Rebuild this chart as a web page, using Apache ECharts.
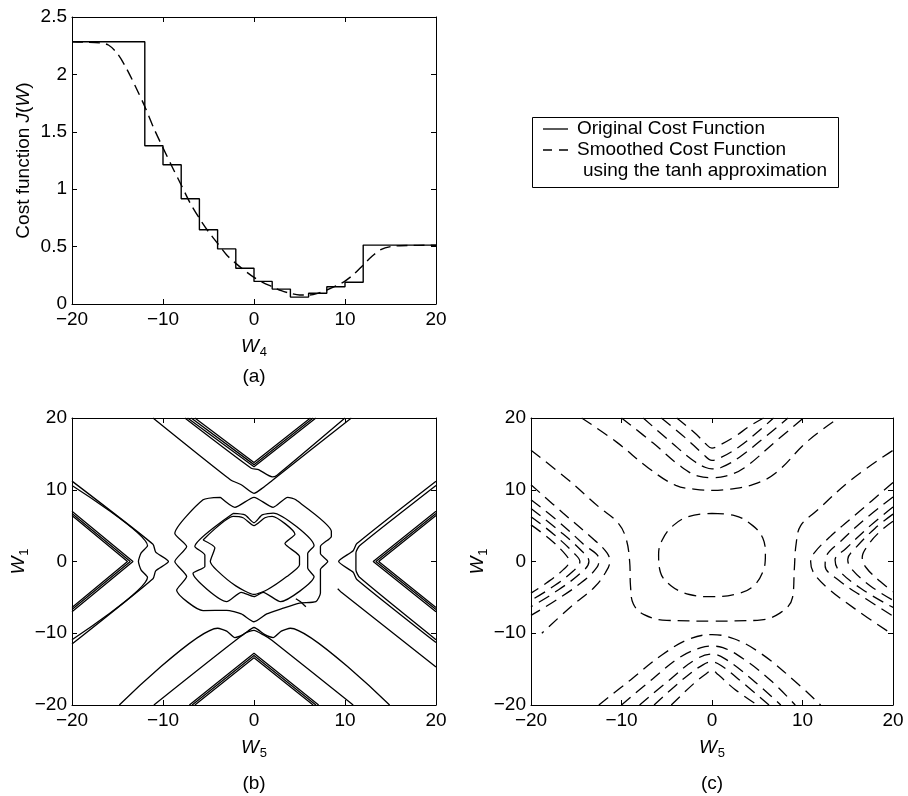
<!DOCTYPE html>
<html>
<head>
<meta charset="utf-8">
<script src="https://cdn.jsdelivr.net/npm/echarts@6/dist/echarts.min.js"></script>
<style>html,body{margin:0;padding:0;background:#fff}#chart{width:908px;height:796px}</style>
</head>
<body>
<div id="chart"></div>
<script>
// panel (a): cost function against W4
const stepW4 = [-20, -12, -10, -8, -6, -4, -2, 0, 2, 4, 6, 8, 10, 12, 20];
const stepCost = [2.285, 1.379, 1.213, 0.917, 0.647, 0.48, 0.312, 0.197, 0.13, 0.06, 0.093, 0.15, 0.19, 0.513, 0.513];
const smoothW4 = [-20, -17, -16, -15, -14, -13, -12, -11, -10, -9, -8, -7, -6, -5, -4, -3, -2, -1, 0, 1, 2, 3, 4, 5, 6, 7, 8, 9, 10, 11, 12, 13, 14, 15, 16, 18, 20];
const smoothCost = [2.285, 2.275, 2.256, 2.18, 2.05, 1.89, 1.72, 1.53, 1.36, 1.196, 1.037, 0.877, 0.746, 0.63, 0.528, 0.427, 0.354, 0.29, 0.232, 0.186, 0.151, 0.116, 0.093, 0.078, 0.078, 0.093, 0.122, 0.157, 0.2, 0.261, 0.34, 0.418, 0.476, 0.5, 0.508, 0.511, 0.512];

// panel (b): contours of the original cost, points are [W5, W1]
const bStraight = [
  [[-6.5, 20], [0, 13.8], [6.2, 20]],
  [[-6.9, 20], [0, 13.5], [6.5, 20]],
  [[-7.3, 20], [0, 13.2], [6.8, 20]],
  [[-7.1, -20], [0, -12.8], [7.1, -20]],
  [[-6.8, -20], [0, -13.1], [6.8, -20]],
  [[-6.5, -20], [0, -13.4], [6.5, -20]],
  [[-20, 7.0], [-13.3, 0], [-20, -7.0]],
  [[-20, 6.7], [-13.6, 0], [-20, -6.7]],
  [[-20, 6.4], [-13.9, 0], [-20, -6.4]],
  [[20, 7.0], [13.1, 0], [20, -7.0]],
  [[20, 6.7], [13.4, 0], [20, -6.7]],
  [[20, 6.4], [13.7, 0], [20, -6.4]],
  [[9.2, -3.8], [9.6, -4.3], [20, -14.7]]
];
const bCurved = [
  [[-7.6, 20], [-0.3, 13.0], [0.5, 12.8], [2.0, 11.8], [2.5, 12.0], [10.0, 20]],
  [[-11.1, 20], [-2.6, 11.4], [-1.4, 10.7], [0, 9.5], [1.0, 10.3], [2.0, 11.3], [10.7, 20]],
  [[-11.0, -20], [-1.0, -10.0], [0, -9.6], [1.0, -10.2], [2.0, -11.0], [10.9, -20]],
  [[-14.8, -20], [-4.0, -9.3], [-3.0, -9.7], [-2.1, -10.6], [-1.2, -10.2], [0, -9.2], [1.2, -10.2], [2.1, -10.6], [3.0, -9.7], [4.0, -9.3], [14.9, -20]],
  [[-20, 10.6], [-11.7, 2.2], [-12.4, 1.2], [-12.7, 0], [-12.4, -1.2], [-11.7, -2.2], [-20, -10.9]],
  [[-20, 11.2], [-11.1, 2.4], [-10.8, 1.3], [-9.4, 0], [-10.8, -1.3], [-11.1, -2.4], [-20, -11.5]],
  [[20, 10.6], [11.6, 2.2], [11.2, 1.2], [11.2, 0], [11.2, -1.2], [11.6, -2.2], [20, -10.9]],
  [[20, 11.2], [11.3, 2.5], [10.9, 1.5], [9.3, 0], [10.9, -1.5], [11.3, -2.5], [20, -11.3]],
  [[4.6, -5.2], [5.2, -5.7], [5.7, -6.3]]
];
const bLoops = [
  [[-3.7, 8.95], [-2.1, 7.55], [0, 8.95], [2.1, 7.55], [3.7, 8.95], [4.6, 8.6], [8.5, 4.2], [8.5, 3.5], [7.3, 2.1], [7.3, 1.1], [8.1, 0], [7.3, -1.1], [7.3, -2.1], [7.3, -4.4], [6.8, -5.6], [5.0, -5.8], [3.0, -6.6], [1.4, -7.3], [0, -8.4], [-1.4, -7.3], [-3.0, -6.8], [-5.6, -6.85], [-8.5, -4.0], [-7.4, -2.1], [-8.7, 0], [-7.4, 2.1], [-8.7, 3.9], [-5.6, 8.6], [-3.7, 8.95]],
  [[-2.3, 6.7], [-1.0, 6.5], [0, 5.4], [0.9, 6.5], [2.1, 6.75], [6.6, 2.2], [5.9, 1.1], [5.9, -0.9], [6.6, -2.1], [2.9, -5.6], [1.0, -4.3], [0, -4.9], [-1.4, -4.3], [-3.0, -5.6], [-6.7, -1.65], [-5.4, -0.7], [-5.4, 0.9], [-6.5, 2.1], [-2.3, 6.7]],
  [[-5.6, 3.0], [-2.3, 6.3], [-1.2, 6.1], [0, 5.0], [1.2, 6.1], [2.0, 6.3], [4.5, 3.8], [3.4, 2.5], [5.0, 0.7], [5.0, -0.5], [3.6, -2.1], [1.5, -3.9], [0, -4.6], [-2.0, -3.4], [-4.1, -1.2], [-4.8, 0], [-4.3, 1.9], [-5.6, 3.0]]
];

// panel (c): contours of the smoothed cost, points are [W5, W1]
const cTop = [
  [[-3.9, 20], [-1.8, 17.8], [-0.7, 16.4], [0, 15.8], [0.8, 16.2], [2.5, 17.4], [4.2, 18.9], [5.7, 20]],
  [[-5.6, 20], [-3.0, 17.3], [-1.0, 15.0], [0, 14.1], [1.0, 14.5], [3.0, 16.0], [5.0, 18.0], [6.8, 20]],
  [[-7.6, 20], [-4.5, 16.6], [-2.0, 14.0], [-0.7, 13.1], [0, 12.9], [1.0, 13.1], [3.0, 14.5], [6.0, 17.5], [8.4, 20]],
  [[-10.0, 20], [-6.5, 16.5], [-3.5, 13.3], [-1.5, 11.9], [0, 11.7], [1.5, 11.9], [3.5, 13.0], [7.0, 16.7], [10.1, 20]],
  [[-14.4, 20], [-10.5, 16.6], [-7.0, 13.0], [-4.0, 10.6], [-2.0, 10.1], [0, 9.9], [2.0, 10.1], [4.5, 10.7], [7.0, 12.3], [10.5, 16.7], [14.0, 20]]
];
const cBottom = [
  [[-12.5, -20], [-9.0, -16.5], [-5.5, -13.0], [-2.5, -10.8], [0, -10.2], [2.5, -10.8], [5.5, -12.9], [9.0, -16.5], [12.0, -20]],
  [[-10.0, -20], [-6.5, -16.3], [-3.5, -13.3], [-1.2, -12.0], [0, -11.8], [1.2, -12.0], [3.5, -13.6], [6.5, -16.6], [9.2, -20]],
  [[-8.0, -20], [-4.5, -16.3], [-2.0, -13.8], [0, -12.9], [1.5, -13.6], [4.5, -16.5], [7.6, -20]],
  [[-6.4, -20], [-3.0, -16.2], [-1.0, -14.4], [0, -14.0], [1.0, -14.5], [3.5, -17.0], [6.3, -20]],
  [[-4.5, -20], [-2.0, -17.0], [-0.6, -15.6], [0, -15.2], [0.7, -15.8], [2.5, -17.8], [5.0, -20]]
];
const cLeft = [
  [[-20, 10.7], [-16.5, 6.8], [-13.0, 3.0], [-11.6, 1.2], [-11.3, 0], [-11.8, -1.6], [-13.0, -3.6], [-15.5, -6.2], [-18.8, -10.0]],
  [[-20, 8.6], [-17, 5.6], [-14.2, 2.4], [-12.5, 0.3], [-12.7, -0.8], [-14.5, -3.0], [-17.5, -5.6], [-20, -7.5]],
  [[-20, 7.4], [-17, 4.4], [-14.5, 1.6], [-13.6, 0], [-14.5, -1.6], [-17.5, -4.4], [-20, -6.3]],
  [[-20, 6.25], [-17.5, 3.8], [-15.2, 1.1], [-14.6, 0], [-15.3, -1.3], [-17.8, -3.7], [-20, -5.4]],
  [[-20, 5.1], [-18, 3.2], [-16.2, 1.0], [-15.8, 0], [-16.4, -1.1], [-18.3, -3.0], [-20, -4.4]]
];
const cRight = [
  [[20, 11.0], [16.5, 7.2], [13.0, 3.4], [11.3, 1.2], [10.9, 0], [11.2, -1.5], [12.6, -3.5], [15.8, -6.6], [20, -10.2]],
  [[20, 9.0], [17, 6.0], [14.2, 2.8], [12.6, 0.6], [12.5, -0.6], [14.0, -2.6], [17, -5.2], [20, -7.6]],
  [[20, 7.6], [17.5, 5.0], [14.8, 1.8], [13.6, 0.2], [14.0, -1.2], [16.5, -3.8], [20, -6.4]],
  [[20, 6.6], [18, 4.6], [15.8, 1.8], [15.0, 0.3], [15.4, -1.0], [17.5, -3.4], [20, -5.4]],
  [[20, 5.6], [18.5, 4.1], [17.2, 2.2], [16.6, 0.6], [17.0, -0.8], [18.6, -2.8], [20, -4.2]]
];
const cMiddle = [
  [[-20, 15.5], [-16, 11.5], [-12.5, 7.6], [-10.4, 5.4], [-9.5, 3.2], [-9.1, 0], [-9.0, -3.5], [-8.7, -5.9], [-7.5, -7.4], [-5.0, -8.2], [0, -8.3], [5.0, -8.2], [7.5, -7.2], [8.9, -5.0], [9.1, -1.0], [9.3, 2.5], [9.8, 5.0], [11.5, 7.0], [15.5, 11.5], [20, 15.5]],
  [[0, 6.7], [2.5, 6.4], [4.5, 5.0], [5.6, 3.3], [5.9, 1.0], [5.6, -1.5], [4.4, -3.6], [2.5, -4.6], [0, -4.9], [-2.5, -4.6], [-4.5, -3.4], [-5.7, -1.5], [-5.9, 1.0], [-5.5, 3.0], [-4.3, 5.0], [-2.5, 6.3], [0, 6.7]]
];

const ticks20 = 10;
const FONT = 'Liberation Sans, Arial, Helvetica, sans-serif';
const minus = v => String(v).replace('-', '\u2212');
const nameStyle = {
  color: '#000', fontFamily: FONT, fontSize: 19,
  rich: {
    n: { fontFamily: FONT, fontSize: 19, color: '#000' },
    i: { fontFamily: FONT, fontSize: 19, fontStyle: 'italic', color: '#000' },
    s: { fontFamily: FONT, fontSize: 13, color: '#000', padding: [12, 0, 0, 1] }
  }
};

function xPair(g, min, max, step, name) {
  const line = { show: true, onZero: false, lineStyle: { color: '#000', width: 1 } };
  const tick = { show: true, inside: true, length: 5, lineStyle: { color: '#000' } };
  return [
    { type: 'value', gridIndex: g, position: 'bottom', min, max, interval: step,
      axisLine: line, axisTick: tick, splitLine: { show: false },
      axisLabel: { color: '#000', fontFamily: FONT, fontSize: 19, margin: 6, formatter: minus },
      name, nameLocation: 'middle', nameGap: 30, nameTextStyle: nameStyle },
    { type: 'value', gridIndex: g, position: 'top', min, max, interval: step,
      axisLine: line, axisTick: tick, splitLine: { show: false }, axisLabel: { show: false } }
  ];
}
function yPair(g, min, max, step, name, gap) {
  const line = { show: true, onZero: false, lineStyle: { color: '#000', width: 1 } };
  const tick = { show: true, inside: true, length: 5, lineStyle: { color: '#000' } };
  return [
    { type: 'value', gridIndex: g, position: 'left', min, max, interval: step,
      axisLine: line, axisTick: tick, splitLine: { show: false },
      axisLabel: { color: '#000', fontFamily: FONT, fontSize: 19, margin: 5, formatter: minus },
      name, nameLocation: 'middle', nameRotate: 90, nameGap: gap, nameTextStyle: nameStyle },
    { type: 'value', gridIndex: g, position: 'right', min, max, interval: step,
      axisLine: line, axisTick: tick, splitLine: { show: false }, axisLabel: { show: false } }
  ];
}

function lines(list, axis, dash, smooth) {
  return list.map(pts => ({
    type: 'line', xAxisIndex: axis, yAxisIndex: axis, data: pts,
    showSymbol: false, symbol: 'none', smooth, animation: false, silent: true,
    lineStyle: { color: '#000', width: 1.3, type: dash }
  }));
}

const zip = (xs, ys) => xs.map((x, i) => [x, ys[i]]);

const chart = echarts.init(document.getElementById('chart'));
chart.setOption({
  animation: false,
  backgroundColor: '#fff',
  grid: [
    { left: 72, top: 17, width: 364, height: 287 },
    { left: 72, top: 418, width: 364, height: 287 },
    { left: 531, top: 418, width: 362, height: 287 }
  ],
  xAxis: [
    ...xPair(0, -20, 20, 10, '{i|W}{s|4}'),
    ...xPair(1, -20, 20, ticks20, '{i|W}{s|5}'),
    ...xPair(2, -20, 20, ticks20, '{i|W}{s|5}')
  ],
  yAxis: [
    ...yPair(0, 0, 2.5, 0.5, '{n|Cost function }{i|J}{n|(}{i|W}{n|)}', 39),
    ...yPair(1, -20, 20, ticks20, '{i|W}{s|1}', 37),
    ...yPair(2, -20, 20, ticks20, '{i|W}{s|1}', 37)
  ],
  series: [
    { type: 'line', xAxisIndex: 0, yAxisIndex: 0, data: zip(stepW4, stepCost), step: 'end',
      showSymbol: false, symbol: 'none', lineStyle: { color: '#000', width: 1.4 } },
    { type: 'line', xAxisIndex: 0, yAxisIndex: 0, data: zip(smoothW4, smoothCost), smooth: 0.3,
      showSymbol: false, symbol: 'none', lineStyle: { color: '#000', width: 1.4, type: [11, 6] } },
    ...lines(bStraight, 2, 'solid', false),
    ...lines(bCurved, 2, 'solid', 0.2),
    ...lines(bLoops, 2, 'solid', 0.2),
    ...lines(cTop, 4, [12, 7], 0.4),
    ...lines(cBottom, 4, [12, 7], 0.4),
    ...lines(cLeft, 4, [12, 7], 0.4),
    ...lines(cRight, 4, [12, 7], 0.4),
    ...lines(cMiddle, 4, [12, 7], 0.4)
  ],
  graphic: [
    { type: 'rect', shape: { x: 532.5, y: 117.5, width: 306, height: 70 },
      style: { fill: '#fff', stroke: '#000', lineWidth: 1 } },
    { type: 'line', shape: { x1: 543, y1: 129, x2: 568, y2: 129 }, style: { stroke: '#000', lineWidth: 1.3 } },
    { type: 'line', shape: { x1: 543, y1: 150, x2: 568, y2: 150 }, style: { stroke: '#000', lineWidth: 1.3, lineDash: [9, 7] } },
    { type: 'text', x: 577, y: 129, style: { text: 'Original Cost Function', font: '19px ' + FONT, fill: '#000', verticalAlign: 'middle' } },
    { type: 'text', x: 577, y: 150, style: { text: 'Smoothed Cost Function', font: '19px ' + FONT, fill: '#000', verticalAlign: 'middle' } },
    { type: 'text', x: 583, y: 171, style: { text: 'using the tanh approximation', font: '19px ' + FONT, fill: '#000', verticalAlign: 'middle' } },
    { type: 'text', x: 254, y: 377, style: { text: '(a)', font: '19px ' + FONT, fill: '#000', align: 'center', verticalAlign: 'middle' } },
    { type: 'text', x: 254, y: 784, style: { text: '(b)', font: '19px ' + FONT, fill: '#000', align: 'center', verticalAlign: 'middle' } },
    { type: 'text', x: 712, y: 784, style: { text: '(c)', font: '19px ' + FONT, fill: '#000', align: 'center', verticalAlign: 'middle' } }
  ]
});
</script>
</body>
</html>
